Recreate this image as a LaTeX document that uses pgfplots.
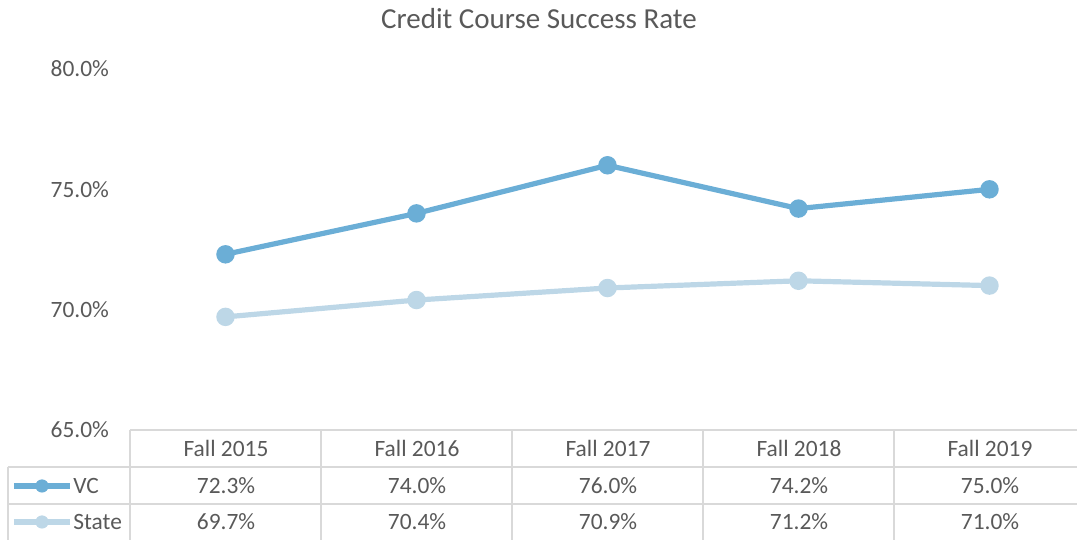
\documentclass[border=0pt]{standalone}
\usepackage{pgfplots}
\pgfplotsset{compat=1.18}
\usepackage{fontspec}
\setmainfont{Carlito}
\definecolor{txt}{HTML}{595959}
\definecolor{vc}{HTML}{6BAED6}
\definecolor{state}{HTML}{BDD7E7}
\definecolor{grid}{HTML}{D9D9D9}

\begin{document}
\begin{tikzpicture}
\begin{axis}[at={(0,0)},anchor=south west,scale only axis,
  width=477.5pt,height=180.5pt,
  xmin=-0.5,xmax=4.5,ymin=65,ymax=80,
  axis lines=none,
  xtick=\empty,ytick=\empty,
  clip=false]
\pgfplotsextra{
  \foreach \v/\l in {65/65.0,70/70.0,75/75.0,80/80.0}{
    \node[anchor=east,text=txt,font=\fontsize{11.7}{13}\selectfont]
      at (axis cs:-0.5,\v) [xshift=-7pt] {\l\%};
  }
}
\addplot[state,line width=2.6pt,mark=*,mark size=3.3pt,mark options={fill=state,draw=state}]
  coordinates {(0,69.7) (1,70.4) (2,70.9) (3,71.2) (4,71.0)};
\addplot[vc,line width=2.6pt,mark=*,mark size=3.3pt,mark options={fill=vc,draw=vc}]
  coordinates {(0,72.3) (1,74.0) (2,76.0) (3,74.2) (4,75.0)};
\end{axis}
\begin{scope}[x=0.5pt,y=-0.5pt,shift={(-130,-430)}]
  % title
  \node[text=txt,font=\fontsize{14.5}{16}\selectfont] at (539,19) {Credit Course Success Rate};
  % data table grid
  \draw[grid,line width=1pt] (130,430) -- (1077,430);
  \draw[grid,line width=1pt] (8,467) -- (1077,467);
  \draw[grid,line width=1pt] (8,504) -- (1077,504);
  \draw[grid,line width=1pt] (8,467) -- (8,540);
  \foreach \xx in {130,321,512,703,894}{
    \draw[grid,line width=1pt] (\xx,430) -- (\xx,540);
  }
  \foreach \lab [count=\i from 0] in {Fall 2015,Fall 2016,Fall 2017,Fall 2018,Fall 2019}{
    \node[text=txt,font=\fontsize{11.7}{13}\selectfont] at (226+191*\i,448) {\lab};
  }
  \foreach \val [count=\i from 0] in {72.3,74.0,76.0,74.2,75.0}{
    \node[text=txt,font=\fontsize{11.7}{13}\selectfont] at (226+191*\i,486) {\val\%};
  }
  \foreach \val [count=\i from 0] in {69.7,70.4,70.9,71.2,71.0}{
    \node[text=txt,font=\fontsize{11.7}{13}\selectfont] at (226+191*\i,522) {\val\%};
  }
  % legend keys
  \draw[vc,line width=2.6pt] (14,486) -- (70,486);
  \fill[vc] (42,486) circle (6.6);
  \node[anchor=west,text=txt,font=\fontsize{11.7}{13}\selectfont,inner sep=0pt] at (73,486) {VC};
  \draw[state,line width=2.6pt] (14,522) -- (70,522);
  \fill[state] (42,522) circle (6.6);
  \node[anchor=west,text=txt,font=\fontsize{11.7}{13}\selectfont,inner sep=0pt] at (73,522) {State};
  \pgfresetboundingbox
  \path[use as bounding box] (0,0) rectangle (1077,540);
\end{scope}
\end{tikzpicture}
\end{document}
